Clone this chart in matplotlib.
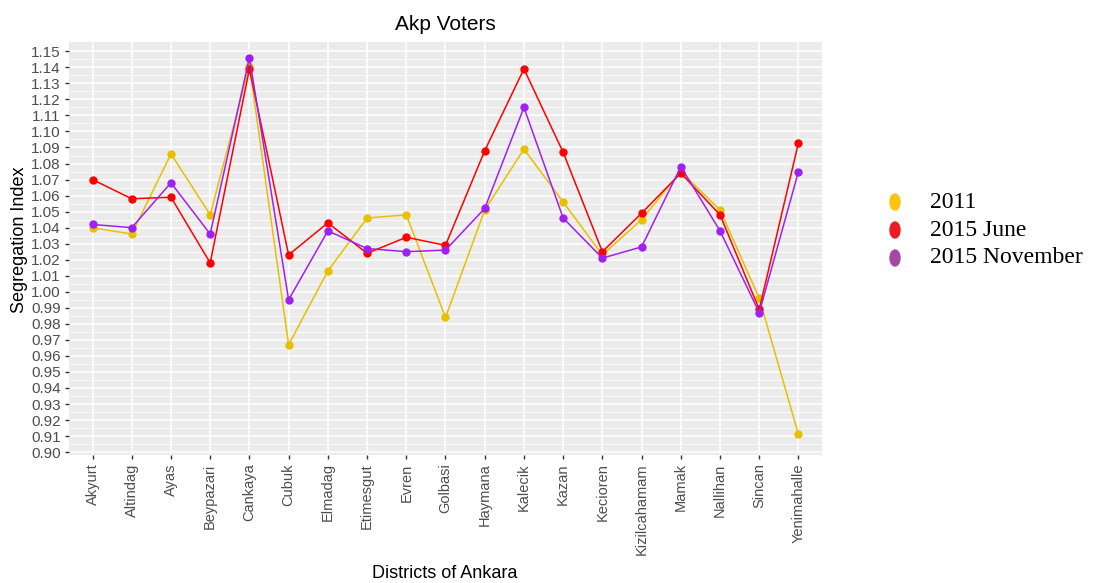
import matplotlib
matplotlib.use("Agg")
import matplotlib.pyplot as plt
from matplotlib.patches import Ellipse
import numpy as np

plt.rcParams['font.family'] = ['Liberation Sans', 'DejaVu Sans']

districts = ["Akyurt", "Altindag", "Ayas", "Beypazari", "Cankaya", "Cubuk",
             "Elmadag", "Etimesgut", "Evren", "Golbasi", "Haymana", "Kalecik",
             "Kazan", "Kecioren", "Kizilcahamam", "Mamak", "Nallihan",
             "Sincan", "Yenimahalle"]

v2011 = [1.040, 1.036, 1.086, 1.048, 1.141, 0.967, 1.013, 1.046, 1.048, 0.984,
         1.051, 1.089, 1.056, 1.023, 1.045, 1.075, 1.051, 0.996, 0.911]
v2015_june = [1.070, 1.058, 1.059, 1.018, 1.139, 1.023, 1.043, 1.024, 1.034,
              1.029, 1.088, 1.139, 1.087, 1.025, 1.049, 1.074, 1.048, 0.989,
              1.093]
v2015_nov = [1.042, 1.040, 1.068, 1.036, 1.146, 0.995, 1.038, 1.027, 1.025,
             1.026, 1.052, 1.115, 1.046, 1.021, 1.028, 1.078, 1.038, 0.987,
             1.075]

series_labels = ["2011", "2015 June", "2015 November"]
line_colors = ["#E8C000", "#FF0000", "#A020F0"]
legend_colors = ["#FFC20E", "#ED1C24", "#A349A4"]

fig = plt.figure(figsize=(10.95, 5.83), dpi=100)
ax = fig.add_axes([69 / 1095, 1 - 455 / 583, 753 / 1095, 413 / 583])

x = np.arange(len(districts))
for vals, col in zip([v2011, v2015_june, v2015_nov], line_colors):
    ax.plot(x, vals, color=col, lw=1.1, marker="o", ms=5, zorder=3)

# ggplot-like panel
ax.set_facecolor("#EBEBEB")
for s in ax.spines.values():
    s.set_visible(False)
ax.set_xlim(-0.6, len(districts) - 0.4)
ax.set_ylim(0.8982, 1.1558)
yt = np.round(np.arange(0.90, 1.1501, 0.01), 2)
ax.set_yticks(yt)
ax.set_yticklabels(["%.2f" % v for v in yt])
ax.set_yticks(yt[:-1] + 0.005, minor=True)
ax.set_xticks(x)
ax.set_xticklabels(districts, rotation=90)
ax.grid(which="major", color="white", lw=1.1)
ax.grid(which="minor", axis="y", color="white", lw=0.55)
ax.set_axisbelow(True)
ax.tick_params(axis="both", which="major", color="#333333", length=3,
               width=1, labelcolor="#4D4D4D", labelsize=10.5, pad=3)
ax.tick_params(axis="y", which="minor", length=0)
ax.tick_params(axis="y", labelsize=11)

ax.set_title("Akp Voters", fontsize=15, pad=9)
fig.text(445 / 1095, 1 - 573 / 583, "Districts of Ankara", fontsize=13,
         ha="center", va="center")
fig.text(20 / 1095, 1 - 240 / 583, "Segregation Index", fontsize=13,
         ha="center", va="center", rotation=90)

# legend pasted on the right
for i, (lab, col) in enumerate(zip(series_labels, legend_colors)):
    ypix = 202 + i * 28
    yf = 1 - ypix / 583
    fig.add_artist(Ellipse((895 / 1095, yf), 10 / 1095, 16 / 583,
                           transform=fig.transFigure, color=col))
    fig.text(930 / 1095, yf, lab, fontsize=17, family="Liberation Serif",
             va="center", ha="left")

fig.savefig("out.png", dpi=100)
